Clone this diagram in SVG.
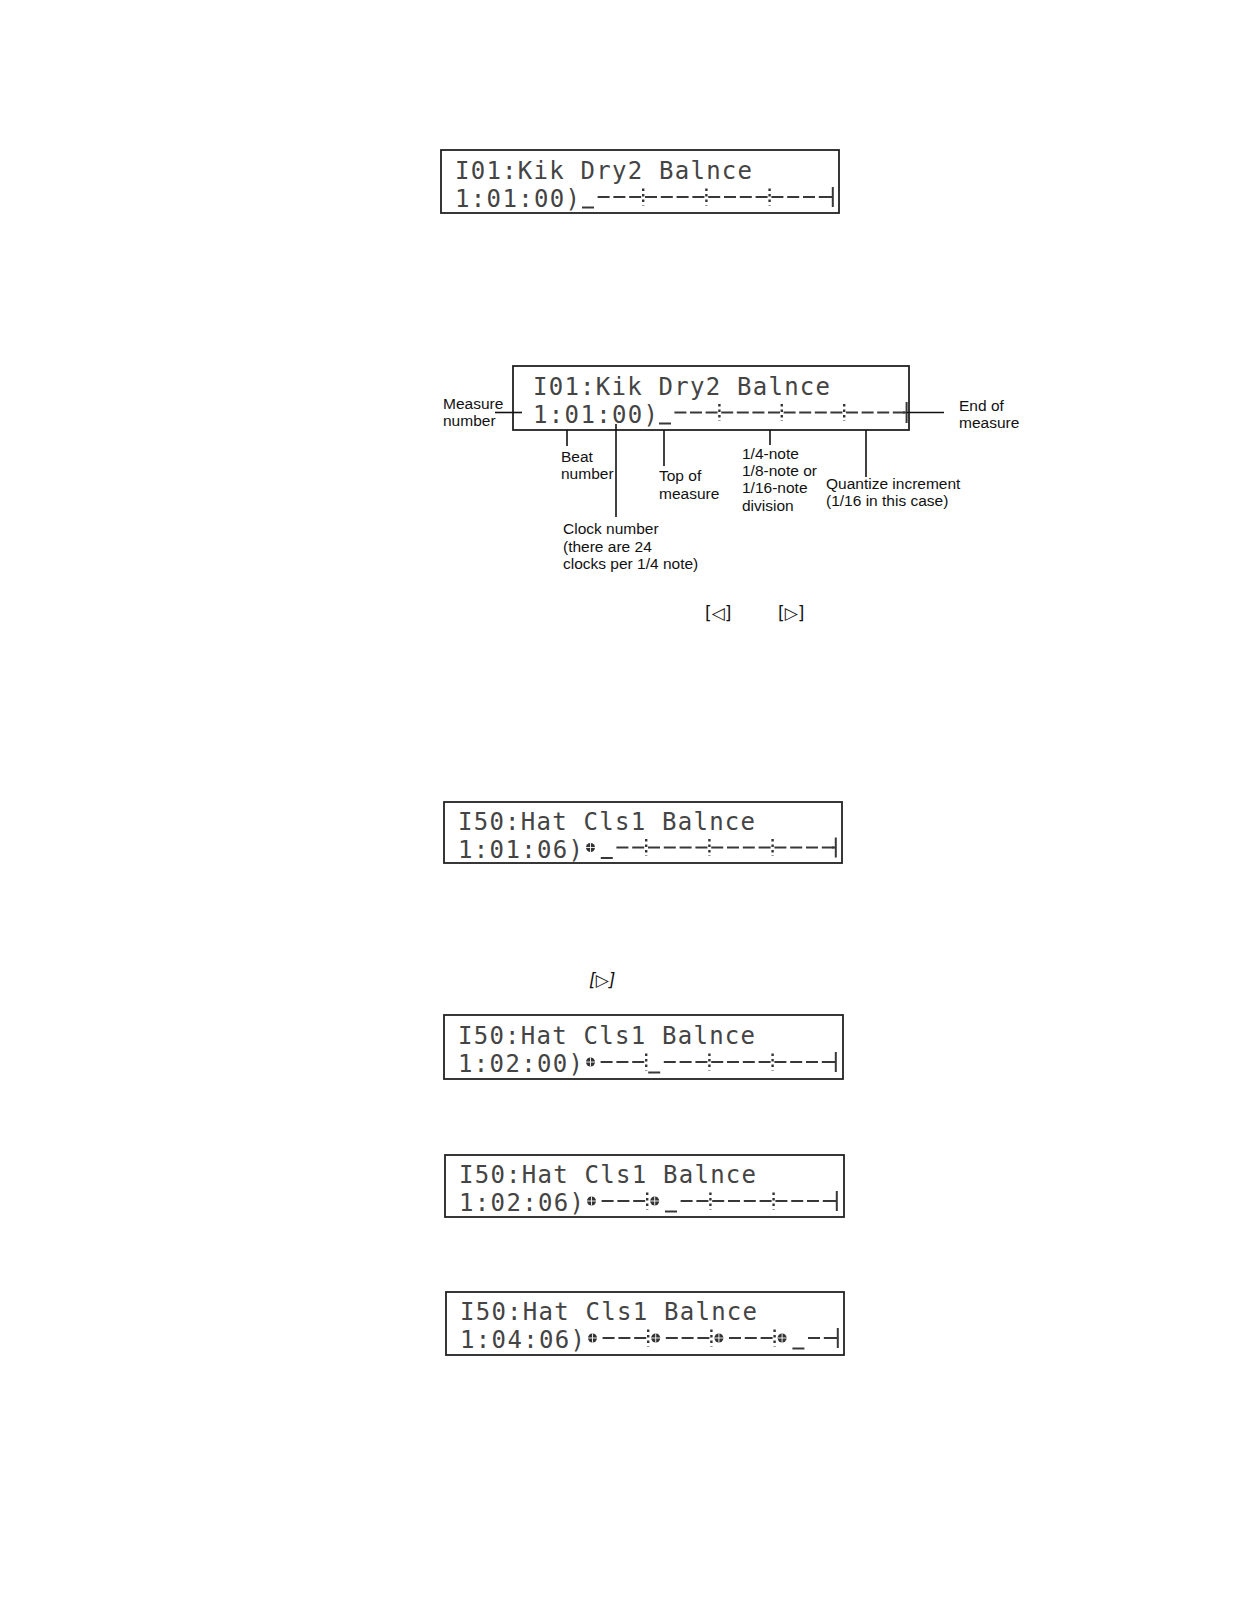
<svg xmlns="http://www.w3.org/2000/svg" width="1248" height="1600" viewBox="0 0 1248 1600">
<style>
.lcd{fill:none;stroke:#222;stroke-width:1.8}
.lt{font-family:"DejaVu Sans Mono","Liberation Mono",monospace;font-size:24px;fill:#444}
.d1{stroke:#383838;stroke-width:2;stroke-dasharray:12 3.8;stroke-dashoffset:14;fill:none}
.d2{stroke:#383838;stroke-width:2;stroke-dasharray:12 3.6;stroke-dashoffset:13.8;fill:none}
.ln{stroke:#383838;stroke-width:2;fill:none}
.tk{stroke:#333;stroke-width:2.4;stroke-dasharray:2.5 3;fill:none}
.lbl{font-family:"Liberation Sans",Arial,sans-serif;font-size:15.5px;fill:#111}
.cn{stroke:#111;stroke-width:1.6;fill:none}
.key{font-family:"DejaVu Sans",sans-serif;font-size:17px;fill:#111}
</style>
<defs>
<g id="note"><circle r="4.5" fill="#333"/><path d="M-4.5 0h9M0 -4.5v9" stroke="#fff" stroke-width="0.9"/></g>
</defs>

<g id="lcd1">
<rect class="lcd" x="441" y="150" width="398" height="63"/>
<text class="lt" x="455" y="179" textLength="297" lengthAdjust="spacing">I01:Kik Dry2 Balnce</text>
<text class="lt" x="455" y="207" textLength="125" lengthAdjust="spacing">1:01:00)</text>
<path class="ln" d="M582 207.5h12"/>
<line class="d1" x1="595.8" y1="197" x2="832.8" y2="197"/>
<path class="ln" d="M829 197H832.8M832.8 187v20"/>
<path class="tk" d="M643.2 188.5v17M706.4 188.5v17M769.6 188.5v17"/>
</g>

<g id="lcd2">
<rect class="lcd" x="513" y="366" width="396" height="64"/>
<text class="lt" x="533" y="394.5" textLength="297" lengthAdjust="spacing">I01:Kik Dry2 Balnce</text>
<text class="lt" x="533" y="423" textLength="125" lengthAdjust="spacing">1:01:00)</text>
<path class="ln" d="M659 423.5h12"/>
<line class="d2" x1="672.6" y1="412.5" x2="906.6" y2="412.5"/>
<path class="ln" d="M903 412.5H906.6M906.6 402v21"/>
<path class="tk" d="M719.4 404v17M781.8 404v17M844.2 404v17"/>
</g>

<g id="lcd3">
<rect class="lcd" x="444" y="802" width="398" height="61"/>
<text class="lt" x="458" y="829.5" textLength="297" lengthAdjust="spacing">I50:Hat Cls1 Balnce</text>
<text class="lt" x="458" y="857.5" textLength="125" lengthAdjust="spacing">1:01:06)</text>
<use href="#note" x="590.5" y="847.5"/>
<path class="ln" d="M600.8 858h12"/>
<line class="d1" x1="614.6" y1="847.5" x2="835.8" y2="847.5"/>
<path class="ln" d="M832 847.5H835.8M835.8 837.5v20"/>
<path class="tk" d="M646.2 839v17M709.4 839v17M772.6 839v17"/>
</g>

<g id="lcd4">
<rect class="lcd" x="444" y="1015" width="399" height="64"/>
<text class="lt" x="458" y="1043.5" textLength="297" lengthAdjust="spacing">I50:Hat Cls1 Balnce</text>
<text class="lt" x="458" y="1072" textLength="125" lengthAdjust="spacing">1:02:00)</text>
<use href="#note" x="590.5" y="1062"/>
<path class="ln" d="M648.2 1072.5h12"/>
<line class="d1" x1="598.8" y1="1062" x2="646.2" y2="1062"/>
<line class="d1" x1="662" y1="1062" x2="835.8" y2="1062"/>
<path class="ln" d="M832 1062H835.8M835.8 1052v20"/>
<path class="tk" d="M646.2 1053.5v17M709.4 1053.5v17M772.6 1053.5v17"/>
</g>

<g id="lcd5">
<rect class="lcd" x="445" y="1155" width="399" height="62"/>
<text class="lt" x="459" y="1182.5" textLength="297" lengthAdjust="spacing">I50:Hat Cls1 Balnce</text>
<text class="lt" x="459" y="1211" textLength="125" lengthAdjust="spacing">1:02:06)</text>
<use href="#note" x="591.5" y="1201"/>
<use href="#note" x="654.7" y="1201"/>
<path class="ln" d="M665 1211.5h12"/>
<line class="d1" x1="599.8" y1="1201" x2="647.2" y2="1201"/>
<line class="d1" x1="678.8" y1="1201" x2="836.8" y2="1201"/>
<path class="ln" d="M833 1201H836.8M836.8 1191v20"/>
<path class="tk" d="M647.2 1192.5v17M710.4 1192.5v17M773.6 1192.5v17"/>
</g>

<g id="lcd6">
<rect class="lcd" x="446" y="1292" width="398" height="63"/>
<text class="lt" x="460" y="1319.5" textLength="297" lengthAdjust="spacing">I50:Hat Cls1 Balnce</text>
<text class="lt" x="460" y="1348" textLength="125" lengthAdjust="spacing">1:04:06)</text>
<use href="#note" x="592.5" y="1338"/>
<use href="#note" x="655.7" y="1338"/>
<use href="#note" x="718.9" y="1338"/>
<use href="#note" x="782.1" y="1338"/>
<path class="ln" d="M792.4 1348.5h12"/>
<line class="d1" x1="600.8" y1="1338" x2="648.2" y2="1338"/>
<line class="d1" x1="664" y1="1338" x2="711.4" y2="1338"/>
<line class="d1" x1="727.2" y1="1338" x2="774.6" y2="1338"/>
<line class="d1" x1="806.2" y1="1338" x2="837.8" y2="1338"/>
<path class="ln" d="M834 1338H837.8M837.8 1328v20"/>
<path class="tk" d="M648.2 1329.5v17M711.4 1329.5v17M774.6 1329.5v17"/>
</g>

<g id="labels">
<text class="lbl" x="443" y="408.5">Measure</text>
<text class="lbl" x="443" y="426">number</text>
<text class="lbl" x="959" y="410.5">End of</text>
<text class="lbl" x="959" y="428">measure</text>
<text class="lbl" x="561" y="461.5">Beat</text>
<text class="lbl" x="561" y="479">number</text>
<text class="lbl" x="659" y="481">Top of</text>
<text class="lbl" x="659" y="498.5">measure</text>
<text class="lbl" x="742" y="458.5">1/4-note</text>
<text class="lbl" x="742" y="476">1/8-note or</text>
<text class="lbl" x="742" y="493">1/16-note</text>
<text class="lbl" x="742" y="510.5">division</text>
<text class="lbl" x="826" y="488.5">Quantize increment</text>
<text class="lbl" x="826" y="506">(1/16 in this case)</text>
<text class="lbl" x="563" y="534">Clock number</text>
<text class="lbl" x="563" y="551.5">(there are 24</text>
<text class="lbl" x="563" y="569">clocks per 1/4 note)</text>
<text class="key" x="705" y="619">[◁]</text>
<text class="key" x="778" y="619">[▷]</text>
<text class="key" x="589" y="986" font-style="italic">[▷]</text>
</g>

<g id="connectors">
<path class="cn" d="M495 412.5H522"/>
<path class="cn" d="M906.6 412.5H944"/>
<path class="cn" d="M567 430V446"/>
<path class="cn" d="M616 424V517"/>
<path class="cn" d="M664 430V466"/>
<path class="cn" d="M770 430V445"/>
<path class="cn" d="M866 430V477"/>
</g>
</svg>
